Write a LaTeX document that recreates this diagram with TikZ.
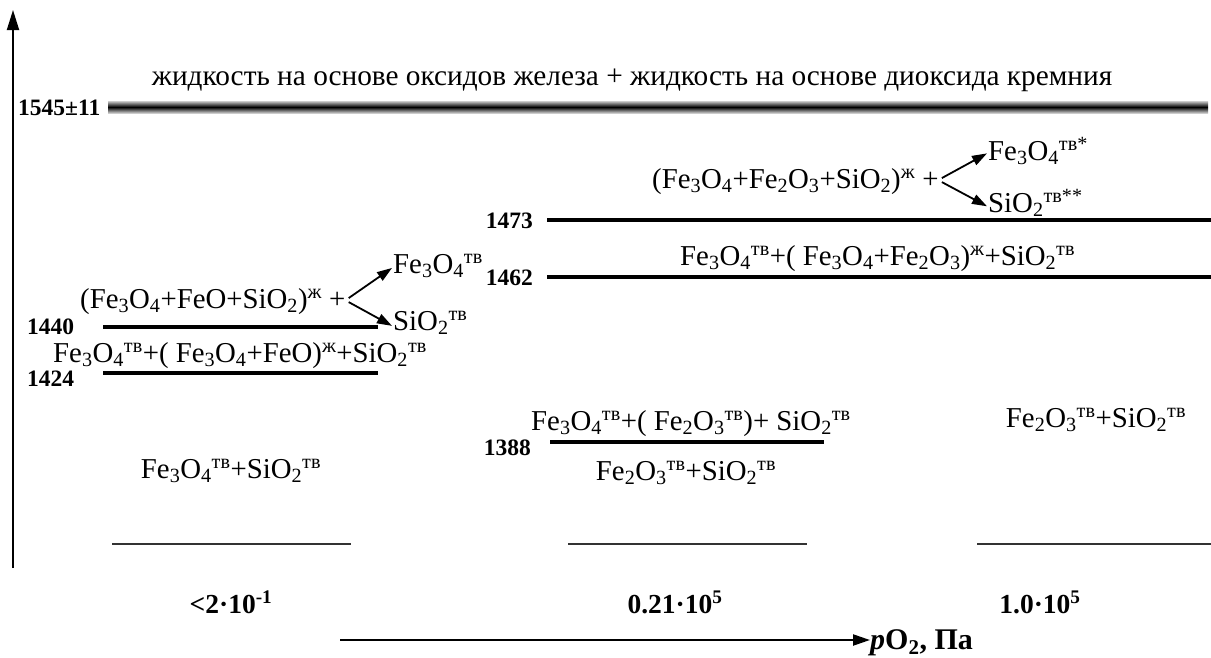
\documentclass[tikz,border=0pt]{standalone}
\usepackage{fontspec}
\setmainfont{Liberation Serif}
\usetikzlibrary{arrows.meta}
\newcommand{\sbs}[1]{\textsubscript{#1}}
\newcommand{\sps}[1]{\textsuperscript{#1}}
\begin{document}
\begin{tikzpicture}[x=1pt,y=-1pt,
  every node/.style={inner sep=0pt},
  chem/.style={anchor=base west,font=\fontsize{28.8}{32}\selectfont},
  chemc/.style={anchor=base,font=\fontsize{28.8}{32}\selectfont},
  temp/.style={anchor=base west,font=\bfseries\fontsize{23.5}{26}\selectfont},
  press/.style={anchor=base west,font=\bfseries\fontsize{27.5}{31}\selectfont},
  levelline/.style={line width=4.5pt},
  thinline/.style={line width=1.6pt,draw=black!80},
  axis/.style={line width=1.8pt,-{Triangle[length=20pt,width=12pt]}},
  react/.style={line width=1.8pt,-{Triangle[length=15pt,width=10pt]}}]
\useasboundingbox (0,0) rectangle (1211,657);

% temperature axis
\coordinate (ybot) at (13,568);
\coordinate (ytop) at (13,10);
\draw[axis] (ybot) -- (ytop);

% two immiscible liquids above 1545
\node[chemc,font=\fontsize{29.3}{32}\selectfont] (liq) at (632,85) {жидкость на основе оксидов железа + жидкость на основе диоксида кремния};
\node[temp] (t1545) at (18,115) {1545±11};
\shade[top color=black!20,bottom color=black!20,middle color=black] (108,101) rectangle (1208,113);

% left column
\node[chem] (rl) at (80,308) {(Fe\sbs{3}O\sbs{4}+FeO+SiO\sbs{2})\sps{ж} +};
\node[chem] (pl1) at (393,273) {Fe\sbs{3}O\sbs{4}\sps{тв}};
\node[chem] (pl2) at (393,330) {SiO\sbs{2}\sps{тв}};
\draw[react] ([xshift=3pt,yshift=3pt]rl.east) -- ([xshift=-1pt,yshift=-2pt]pl1.west);
\draw[react] ([xshift=3pt,yshift=-1pt]rl.east) -- ([xshift=-1pt,yshift=-3pt]pl2.west);

\node[temp] (t1440) at (27,334) {1440};
\coordinate (a1440) at (103,327);
\coordinate (b1440) at (378,327);
\draw[levelline] (a1440) -- (b1440);
\node[chem] (ml) at (53,362) {Fe\sbs{3}O\sbs{4}\sps{тв}+( Fe\sbs{3}O\sbs{4}+FeO)\sps{ж}+SiO\sbs{2}\sps{тв}};
\node[temp] (t1424) at (27,386) {1424};
\coordinate (a1424) at (103,373);
\coordinate (b1424) at (378,373);
\draw[levelline] (a1424) -- (b1424);
\node[chemc] (bl) at (231,478) {Fe\sbs{3}O\sbs{4}\sps{тв}+SiO\sbs{2}\sps{тв}};

% middle and right columns
\node[chem] (rr) at (652,188) {(Fe\sbs{3}O\sbs{4}+Fe\sbs{2}O\sbs{3}+SiO\sbs{2})\sps{ж} +};
\node[chem] (pr1) at (988,160) {Fe\sbs{3}O\sbs{4}\sps{тв*}};
\node[chem] (pr2) at (988,212) {SiO\sbs{2}\sps{тв**}};
\draw[react] ([xshift=3pt,yshift=3pt]rr.east) -- ([xshift=-1pt,yshift=-2pt]pr1.west);
\draw[react] ([xshift=3pt,yshift=-1pt]rr.east) -- ([xshift=-1pt,yshift=-3pt]pr2.west);

\node[temp,anchor=base east] (t1473) at (533,228) {1473};
\coordinate (a1473) at (547,220);
\coordinate (b1473) at (1211,220);
\draw[levelline] (a1473) -- (b1473);
\node[chem] (mr) at (680,265) {Fe\sbs{3}O\sbs{4}\sps{тв}+( Fe\sbs{3}O\sbs{4}+Fe\sbs{2}O\sbs{3})\sps{ж}+SiO\sbs{2}\sps{тв}};
\node[temp,anchor=base east] (t1462) at (533,285) {1462};
\coordinate (a1462) at (547,277);
\coordinate (b1462) at (1211,277);
\draw[levelline] (a1462) -- (b1462);

\node[chem] (um) at (531,430) {Fe\sbs{3}O\sbs{4}\sps{тв}+( Fe\sbs{2}O\sbs{3}\sps{тв})+ SiO\sbs{2}\sps{тв}};
\node[temp,anchor=base east] (t1388) at (531,455) {1388};
\coordinate (a1388) at (550,442);
\coordinate (b1388) at (824,442);
\draw[levelline] (a1388) -- (b1388);
\node[chemc] (lm) at (686,480) {Fe\sbs{2}O\sbs{3}\sps{тв}+SiO\sbs{2}\sps{тв}};
\node[chemc] (br) at (1096,427) {Fe\sbs{2}O\sbs{3}\sps{тв}+SiO\sbs{2}\sps{тв}};

% pressure columns
\coordinate (c1a) at (112,544);
\coordinate (c1b) at (351,544);
\coordinate (c2a) at (568,544);
\coordinate (c2b) at (807,544);
\coordinate (c3a) at (977,544);
\coordinate (c3b) at (1211,544);
\draw[thinline] (c1a) -- (c1b);
\draw[thinline] (c2a) -- (c2b);
\draw[thinline] (c3a) -- (c3b);
\node[press,anchor=base] (p1) at (231,613) {<2·10\sps{-1}};
\node[press,anchor=base] (p2) at (675,613) {0.21·10\sps{5}};
\node[press,anchor=base] (p3) at (1040,613) {1.0·10\sps{5}};

% pressure axis
\coordinate (xa) at (340,640);
\node[press,font=\bfseries\fontsize{30}{34}\selectfont] (px) at (870,649) {\textit{p}O\sbs{2}, Па};
\draw[line width=2.2pt,-{Triangle[length=17pt,width=11pt]}] (xa) -- (px.west |- xa);
\end{tikzpicture}
\end{document}
